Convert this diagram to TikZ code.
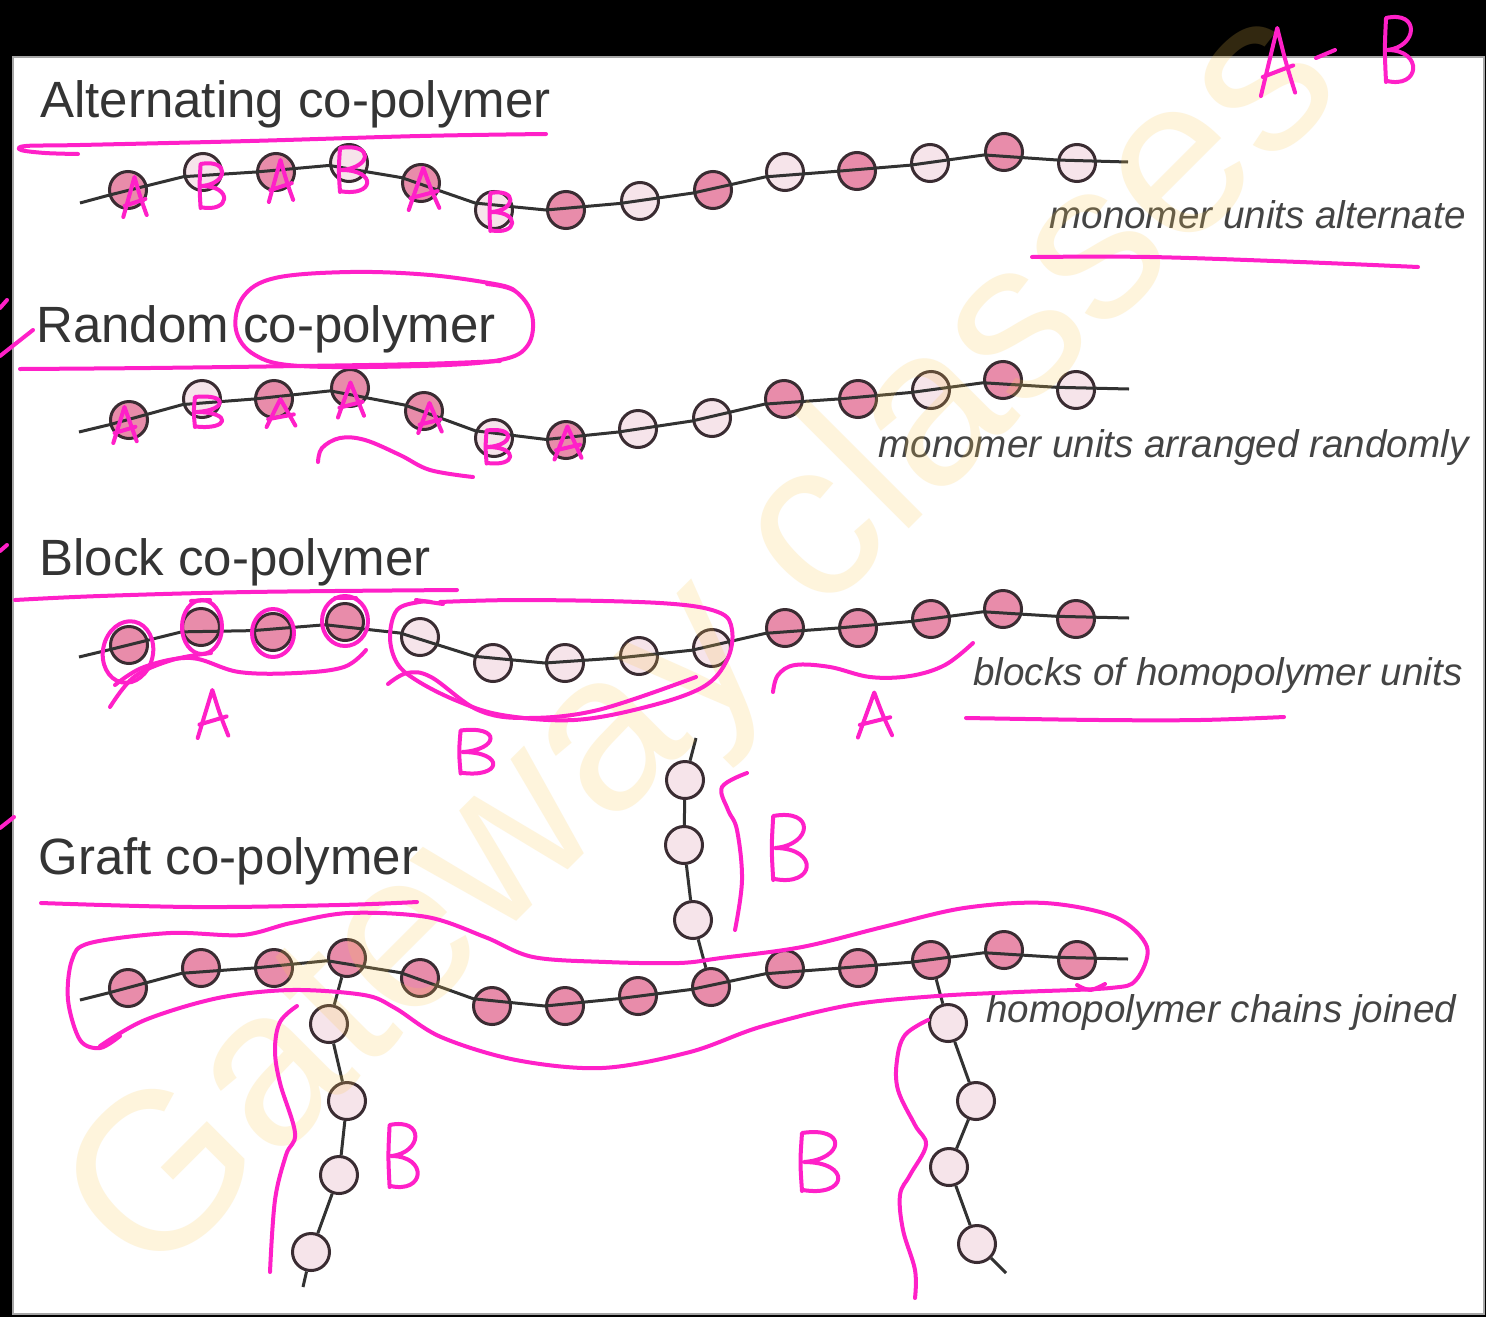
\documentclass[tikz,border=0pt]{standalone}
\usepackage{fontspec}
\setmainfont{Liberation Sans}
\definecolor{pinkA}{RGB}{232,140,170}
\definecolor{pinkB}{RGB}{246,228,234}
\definecolor{beadrim}{RGB}{58,44,50}
\definecolor{bondc}{RGB}{50,50,50}
\definecolor{inkc}{RGB}{255,32,200}
\definecolor{titlec}{RGB}{52,52,52}
\definecolor{capc}{RGB}{68,68,68}
\definecolor{wmark}{RGB}{250,200,80}
% handwritten letters: centre x, centre y, width, height
\newcommand\inkA[4]{\draw[ink,shift={(#1,#2)},xscale=#3,yscale=#4]
  (-0.45,0.5) .. controls (-0.25,0) .. (-0.02,-0.5) .. controls (0.2,0) .. (0.45,0.45)
  (-0.4,0.22) -- (0.4,0.05);}
\newcommand\inkB[4]{\draw[ink,shift={(#1,#2)},xscale=#3,yscale=#4]
  (-0.4,0.5) .. controls (-0.45,0) .. (-0.4,-0.5)
  .. controls (0.75,-0.62) and (0.65,-0.05) .. (-0.35,0.0)
  .. controls (0.85,0.0) and (0.75,0.62) .. (-0.4,0.48);}
\begin{document}
\begin{tikzpicture}[x=0.5pt,y=-0.5pt,
  beadd/.style={circle,draw=beadrim,fill=pinkA,line width=1.5pt,minimum size=18.5pt,inner sep=0pt},
  beadl/.style={beadd,fill=pinkB},
  bond/.style={draw=bondc,line width=1.5pt},
  ink/.style={draw=inkc,line width=2pt,line cap=round,line join=round},
  title/.style={anchor=base west,inner sep=0pt,text=titlec,font=\fontsize{25.5}{30}\selectfont},
  caption/.style={anchor=base west,inner sep=0pt,text=capc,font=\fontsize{19.3}{23}\selectfont\itshape}]
\useasboundingbox (0,0) rectangle (1486,1317);
% frame
\fill[black] (0,0) rectangle (1486,1317);
\fill[white] (13,57) rectangle (1484,1314);
\draw[black!35,line width=0.6pt] (13,57) rectangle (1484,1314);

% titles and captions
\node[title] (t1) at (40,117) {Alternating co-polymer};
\node[title] (t2) at (36,342) {Random co-polymer};
\node[title] (t3) at (39,575) {Block co-polymer};
\node[title] (t4) at (38,874) {Graft co-polymer};
\node[caption] (c1) at (1049,228) {monomer units alternate};
\node[caption] (c2) at (878,457) {monomer units arranged randomly};
\node[caption] (c3) at (973,685) {blocks of homopolymer units};
\node[caption] (c4) at (986,1022) {homopolymer chains joined};

% alternating chain
\coordinate (a0) at (80,203);
\coordinate (aE) at (1128,162);
\foreach \n/\x/\y/\t in {1/128/190/d,2/203/172/l,3/276/172/d,4/349/163/l,5/421/183/d,
  6/494/210/l,7/566/210/d,8/640/201/l,9/713/190/d,10/785/172/l,11/857/171/d,
  12/930/163/l,13/1004/152/d,14/1077/163/l}
  \node[bead\t] (a\n) at (\x,\y) {};
\draw[bond] (a0) foreach \i in {1,...,14} {-- (a\i)} -- (aE);

% random chain
\coordinate (r0) at (79,432);
\coordinate (rE) at (1129,389);
\foreach \n/\x/\y/\t in {1/129/420/d,2/202/399/l,3/274/399/d,4/350/388/d,5/424/411/d,
  6/494/438/l,7/566/440/d,8/638/429/l,9/712/418/l,10/784/399/d,11/858/399/d,
  12/931/390/l,13/1003/380/d,14/1076/390/l}
  \node[bead\t] (r\n) at (\x,\y) {};
\draw[bond] (r0) foreach \i in {1,...,14} {-- (r\i)} -- (rE);

% block chain
\coordinate (b0) at (79,657);
\coordinate (bE) at (1129,618);
\foreach \n/\x/\y/\t in {1/129/645/d,2/201/627/d,3/273/632/d,4/345/622/d,5/420/637/l,
  6/493/663/l,7/565/663/l,8/639/656/l,9/712/648/l,10/785/628/d,11/858/628/d,
  12/931/619/d,13/1003/609/d,14/1076/619/d}
  \node[bead\t] (b\n) at (\x,\y) {};
\draw[bond] (b0) foreach \i in {1,...,14} {-- (b\i)} -- (bE);

% graft chain: backbone
\coordinate (g0) at (80,1000);
\coordinate (gE) at (1128,959);
\foreach \n/\x/\y in {1/128/988,2/201/968,3/274/968,4/347/958,5/420/978,
  6/492/1006,7/565/1006,8/638/996,9/711/987,10/785/969,11/858/968,
  12/931/960,13/1004/950,14/1077/960}
  \node[beadd] (g\n) at (\x,\y) {};
\draw[bond] (g0) foreach \i in {1,...,14} {-- (g\i)} -- (gE);
% graft chain: side chains
\foreach \n/\x/\y in {1/693/920,2/684/845,3/685/780}
  \node[beadl] (u\n) at (\x,\y) {};
\coordinate (uE) at (696,738);
\draw[bond] (g9) -- (u1) -- (u2) -- (u3) -- (uE);
\foreach \n/\x/\y in {1/329/1024,2/347/1101,3/339/1175,4/311/1252}
  \node[beadl] (p\n) at (\x,\y) {};
\coordinate (pE) at (303,1287);
\draw[bond] (g4) -- (p1) -- (p2) -- (p3) -- (p4) -- (pE);
\foreach \n/\x/\y in {1/948/1023,2/976/1101,3/949/1167,4/977/1244}
  \node[beadl] (q\n) at (\x,\y) {};
\coordinate (qE) at (1006,1273);
\draw[bond] (g12) -- (q1) -- (q2) -- (q3) -- (q4) -- (qE);

% watermark
\node[anchor=base west,inner sep=0pt,rotate=45,text=wmark,text opacity=0.2,
  font=\fontsize{112}{116}\selectfont] (wm) at (150,1288) {Gateway classes};

% hand annotations -- alternating
\draw[ink] plot[smooth,tension=0.6] coordinates {(78,154) (45,153) (21,150) (26,146) (80,145) (250,141) (420,136) (546,134)};
\inkA{135}{197}{26}{40} \inkB{211}{186}{26}{44} \inkA{281}{181}{27}{42}
\inkB{352}{170}{30}{44} \inkA{424}{189}{34}{42} \inkB{500}{212}{24}{38}
\inkA{1278}{62}{38}{68}
\draw[ink] (1316,58) -- (1335,50);
\inkB{1398}{50}{30}{64}
\draw[ink] plot[smooth,tension=0.6] coordinates {(1032,257) (1150,257) (1300,262) (1418,267)};

% hand annotations -- random
\draw[ink] (0,356) -- (33,330);
\draw[ink] (0,308) -- (7,300);
\draw[ink] plot[smooth,tension=0.6] coordinates {(20,369) (150,368) (300,366) (420,364) (500,361)};
\draw[ink] plot[smooth,tension=0.6] coordinates {(487,284) (515,291) (532,315) (528,345) (500,360) (420,366) (300,366) (255,355) (236,330) (243,297) (275,278) (350,272) (430,275) (500,285) (516,292)};
\inkA{125}{425}{26}{36} \inkB{207}{412}{30}{30} \inkA{281}{413}{32}{28}
\inkA{351}{400}{29}{35} \inkA{430}{418}{26}{30} \inkB{497}{447}{26}{33}
\inkA{568}{443}{30}{33}
\draw[ink] plot[smooth,tension=0.6] coordinates {(318,462) (322,448) (340,438) (365,440) (400,455) (430,470) (473,477)};

% hand annotations -- block
\draw[ink] (0,551) -- (7,545);
\draw[ink] plot[smooth,tension=0.6] coordinates {(15,600) (100,596) (250,592) (457,590)};
\draw[ink,rotate around={-12:(128,652)}] (128,652) ellipse [x radius=25,y radius=31];
\draw[ink] (202,627) ellipse [x radius=20,y radius=27];
\draw[ink] (273,633) ellipse [x radius=21,y radius=24];
\draw[ink] (345,621) ellipse [x radius=23,y radius=25];
\draw[ink] (191,601) -- (210,600);
\draw[ink] (335,598) -- (356,598);
\draw[ink] plot[smooth,tension=0.6] coordinates {(115,685) (144,667) (191,658) (239,672) (297,673) (344,667) (366,650)};
\draw[ink] plot[smooth,tension=0.6] coordinates {(110,707) (134,677) (172,660) (211,653)};
\inkA{213}{714}{34}{48}
\draw[ink] (416,600) -- (443,604);
\draw[ink] plot[smooth,tension=0.6] coordinates {(431,602) (419,602) (397,610) (390,637) (397,663) (416,680) (455,700) (502,715) (574,720) (646,707) (703,687) (727,660) (732,630) (718,612) (660,603) (526,600) (440,602)};
\draw[ink] plot[smooth,tension=0.6] coordinates {(388,684) (407,673) (431,677) (478,710) (526,718) (598,710) (696,677)};
\inkB{475}{752}{36}{43}
\draw[ink] plot[smooth,tension=0.6] coordinates {(773,692) (778,675) (795,665) (830,667) (870,677) (910,676) (945,665) (973,643)};
\inkA{875}{715}{38}{45}
\draw[ink] plot[smooth,tension=0.6] coordinates {(966,718) (1100,720) (1200,720) (1284,717)};

% hand annotations -- graft
\draw[ink] (0,828) -- (14,817);
\draw[ink] plot[smooth,tension=0.6] coordinates {(41,903) (194,907) (339,905) (417,902)};
\draw[ink] plot[smooth,tension=0.55] coordinates {(120,1036) (100,1048) (80,1040) (68,1000) (72,960) (90,943) (170,933) (242,935) (291,923) (349,913) (427,917) (485,937) (533,957) (606,962) (679,963) (721,958) (802,947) (883,927) (964,908) (1045,903) (1115,917) (1147,947) (1136,980) (1110,988) (1018,992) (937,996) (850,1005) (760,1027) (690,1052) (602,1068) (516,1060) (441,1037) (395,1008) (364,995) (291,990) (218,998) (145,1020) (100,1046)};
\draw[ink] plot[smooth,tension=0.6] coordinates {(1077,985) (1090,990) (1105,984)};
\draw[ink] plot[smooth,tension=0.6] coordinates {(747,773) (722,787) (728,810) (737,830) (742,880) (735,930)};
\inkB{788}{848}{37}{64}
\draw[ink] plot[smooth,tension=0.6] coordinates {(297,1006) (280,1022) (275,1050) (280,1083) (295,1133) (286,1155) (275,1200) (270,1272)};
\inkB{402}{1156}{31}{62}
\inkB{818}{1162}{40}{58}
\draw[ink] plot[smooth,tension=0.6] coordinates {(928,1020) (905,1035) (897,1060) (898,1090) (915,1125) (926,1145) (910,1175) (900,1195) (903,1230) (915,1270) (915,1298)};
\end{tikzpicture}
\end{document}
